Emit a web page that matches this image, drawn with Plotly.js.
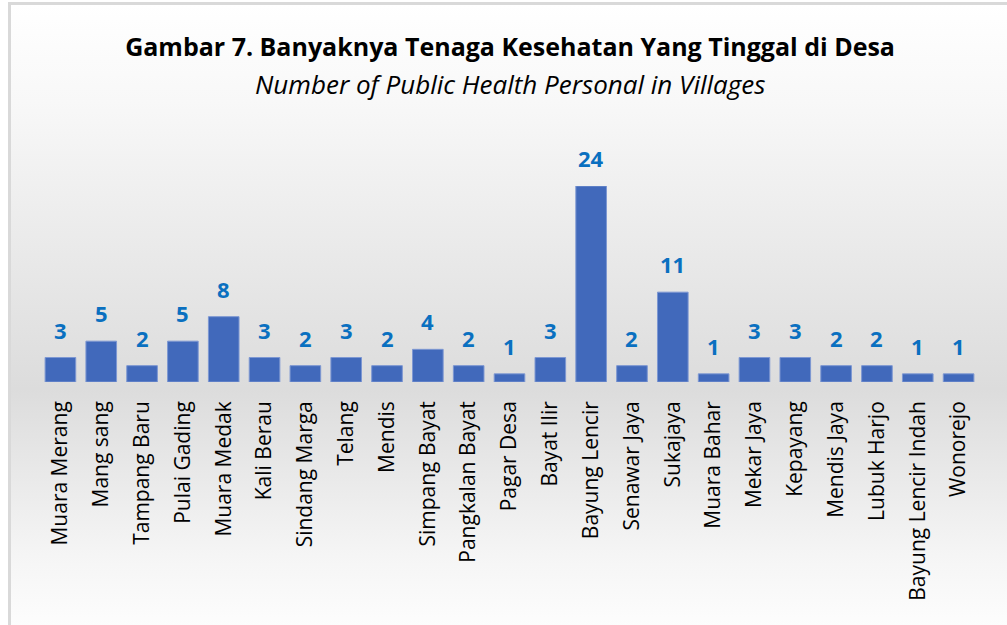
<!DOCTYPE html>
<html>
<head>
<meta charset="utf-8">
<script src="https://cdn.plot.ly/plotly-3.0.1.min.js"></script>
<style>
  html, body { margin: 0; padding: 0; background: #ffffff; }
  #frame {
    position: absolute; left: 8px; top: 2px; width: 1010px; height: 640px;
    border-top: 3px solid #d9d9d9; border-left: 3px solid #d9d9d9;
    background: linear-gradient(to bottom, #ffffff 0%, #f8f8f8 15%, #dcdcdc 60%, #f5f5f5 86%, #ffffff 100%);
  }
  #chart { position: absolute; left: 0; top: 0; width: 1007px; height: 625px; }
</style>
</head>
<body>
<div id="frame"></div>
<div id="chart"></div>
<script>
const villages = ["Muara Merang","Mang sang","Tampang Baru","Pulai Gading","Muara Medak","Kali Berau","Sindang Marga","Telang","Mendis","Simpang Bayat","Pangkalan Bayat","Pagar Desa","Bayat Ilir","Bayung Lencir","Senawar Jaya","Sukajaya","Muara Bahar","Mekar Jaya","Kepayang","Mendis Jaya","Lubuk Harjo","Bayung Lencir Indah","Wonorejo"];
const personnel = [3,5,2,5,8,3,2,3,2,4,2,1,3,24,2,11,1,3,3,2,2,1,1];
const titleMain = "Gambar 7. Banyaknya Tenaga Kesehatan Yang Tinggal di Desa";
const titleSub = "Number of Public Health Personal in Villages";

const trace = {
  type: "bar",
  x: villages,
  y: personnel,
  marker: { color: "#4169bb", line: { color: "#7d97d2", width: 1 } },
  width: 0.75,
  hoverinfo: "x+y"
};

const annotations = villages.map((v, i) => ({
  x: v, y: personnel[i], xref: "x", yref: "y",
  text: "<b>" + personnel[i] + "</b>", showarrow: false,
  yanchor: "middle", yshift: 28,
  font: { family: "Open Sans, sans-serif", size: 22, color: "#0a70c0" }
}));
annotations.push({
  xref: "paper", yref: "paper", x: 0.5005, y: 1.52, xanchor: "center", yanchor: "middle",
  showarrow: false,
  text: "<i>" + titleSub + "</i>",
  font: { family: "Open Sans, sans-serif", size: 26, color: "#000000" }
});

const layout = {
  width: 1007, height: 625,
  paper_bgcolor: "rgba(0,0,0,0)",
  plot_bgcolor: "rgba(0,0,0,0)",
  margin: { l: 40, r: 28, t: 186, b: 243 },
  title: {
    text: "<b>" + titleMain + "</b>",
    font: { family: "Open Sans, sans-serif", size: 25, color: "#000000" },
    xref: "container", yref: "container",
    x: 0.5065, xanchor: "center", y: 0.925, yanchor: "middle"
  },
  xaxis: {
    type: "category",
    tickangle: -90,
    tickfont: { family: "Open Sans, sans-serif", size: 21, color: "#000000" },
    ticklabelstandoff: 14,
    showgrid: false, zeroline: false, showline: false, ticks: ""
  },
  yaxis: {
    range: [0, 24], visible: false, showgrid: false, zeroline: false
  },
  bargap: 0.25,
  annotations: annotations,
  showlegend: false
};

Plotly.newPlot("chart", [trace], layout, { displayModeBar: false, staticPlot: true });
</script>
</body>
</html>
